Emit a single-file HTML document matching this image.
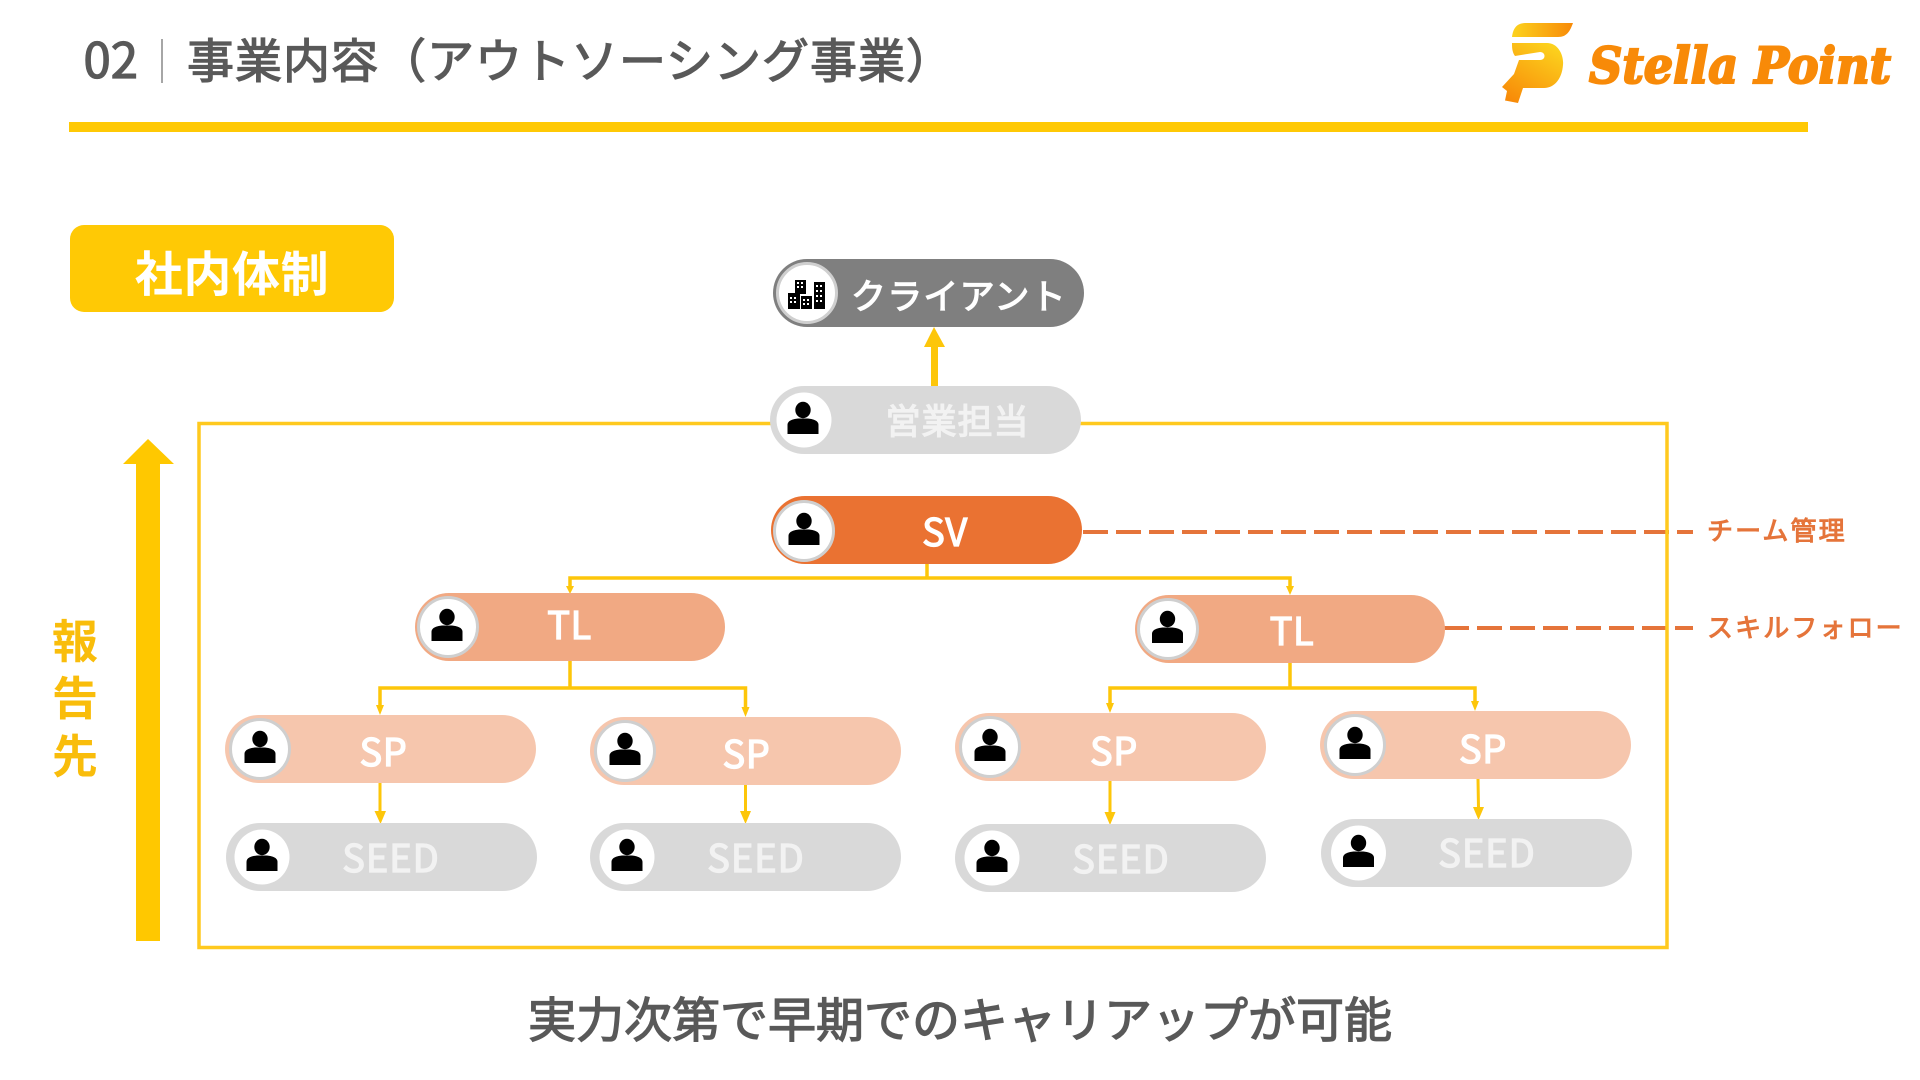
<!DOCTYPE html>
<html lang="ja">
<head>
<meta charset="utf-8">
<title>事業内容（アウトソーシング事業）</title>
<style>
html,body{margin:0;padding:0;background:#fff;width:1920px;height:1080px;overflow:hidden}
svg{display:block}
text{font-family:"Noto Sans CJK JP","Liberation Sans",sans-serif}
.w{fill:#fff;stroke:#fff;stroke-width:1.3px;text-anchor:middle;font-size:38px;letter-spacing:.6px}
.g{fill:#f2f2f2;stroke:#f2f2f2;stroke-width:1.3px;text-anchor:middle;font-size:38px;letter-spacing:1px}
.o{fill:#e5743a;stroke:#e5743a;stroke-width:1px;font-size:26px;letter-spacing:2.1px}
.t{fill:#595959;stroke:#595959;stroke-width:1.300px}
</style>
</head>
<body>
<svg width="1920" height="1080" viewBox="0 0 1920 1080" xmlns="http://www.w3.org/2000/svg">
<defs>
<linearGradient id="lg1" x1="0" y1="0" x2="1" y2="0"><stop offset="0" stop-color="#fcd31e"/><stop offset="1" stop-color="#f88a08"/></linearGradient>
<linearGradient id="lg2" x1="0.8" y1="0" x2="0.2" y2="1"><stop offset="0" stop-color="#fcd31e"/><stop offset="1" stop-color="#f88a08"/></linearGradient>
<g id="person"><ellipse cx="0" cy="-10" rx="7.7" ry="8.2" fill="#000"/><path d="M-15.5 14V5C-15.5 0-9-1-5-1.500H5C9-1 15.500 0 15.500 5V14Z" fill="#000"/></g>
</defs>

<!-- header -->
<text x="83.500" y="78" font-size="49" class="t">02</text>
<rect x="161" y="39" width="2" height="44" fill="#a6a6a6"/>
<text x="187" y="78" font-size="47" class="t" letter-spacing="1">事業内容（アウトソーシング事業）</text>
<rect x="69" y="122" width="1739" height="10" fill="#ffc905"/>

<!-- logo -->
<path d="M1512 37C1513 28 1517 23 1526 23H1573C1570 31 1567 37 1558 37Z" fill="url(#lg1)"/>
<path d="M1512 43H1547C1558 43 1564 55 1563 65C1562 78 1555 88 1544 88H1523L1518 103L1505 100.500L1507 91L1502 87L1514 74L1519 60H1540C1546 60 1546 52 1540 52L1515 56C1512 52 1512 47 1512 43Z" fill="url(#lg2)"/>
<text x="1589" y="83" font-size="50" font-weight="700" font-style="italic" fill="#f88a08" stroke="#f88a08" stroke-width="2.200" style="font-family:'DejaVu Serif','Liberation Serif',serif" textLength="302" lengthAdjust="spacingAndGlyphs">Stella Point</text>

<!-- badge -->
<rect x="70" y="225" width="324" height="87" rx="14" fill="#ffc905"/>
<text x="232" y="291" font-size="48" font-weight="700" fill="#fff" text-anchor="middle" letter-spacing=".6">社内体制</text>

<!-- big arrow -->
<path d="M136 941V464H123L148 439L174 464H160V941Z" fill="#ffc800"/>
<g font-size="46" font-weight="700" fill="#f9bd0b" text-anchor="middle">
<text x="75" y="658">報</text><text x="75" y="715">告</text><text x="75" y="773">先</text>
</g>

<!-- dashed -->
<g stroke="#e5743a" stroke-width="4" fill="none" stroke-dasharray="25 8">
<path d="M1083 532H1693"/>
<path d="M1444 628H1693"/>
</g>

<!-- frame -->
<rect x="199" y="423.500" width="1468" height="524" fill="none" stroke="#ffc91e" stroke-width="3.500"/>

<!-- connectors -->
<g stroke="#fdc60a" fill="none" stroke-width="3.500">
<path d="M927 562V578M570 587V578H1290V588" />
<path d="M570 661V688M380 706V688H745.500V708"/>
<path d="M1290 663V688M1110 704V688H1475V702"/>
<path d="M380 783V812M745.500 785V812M1110 781V813M1478 779L1478.500 808" stroke-width="3"/>
</g>
<g fill="#fdc60a">
<path d="M566 586H574L570 594ZM1286 586H1294L1290 595ZM376 705H384L380 715ZM741.500 707H749.500L745.500 717ZM1106 703H1114L1110 713ZM1471 701H1479L1475 711Z"/>
<path d="M374.500 811H386L380.500 824ZM740 811H751L745.500 824ZM1104.500 812H1115.500L1110 825ZM1473 807H1484L1478.500 820Z"/>
<path d="M934 327L945 347H938V387H931V347H924Z"/>
</g>

<!-- client -->
<rect x="773" y="259" width="311" height="68" rx="34" fill="#7f7f7f"/>
<circle cx="807" cy="293" r="29.500" fill="#fff" stroke="#cfcfcf" stroke-width="3"/>
<g>
<rect x="795" y="280" width="11" height="14" fill="#000"/>
<rect x="788" y="293" width="12" height="16" fill="#000"/>
<rect x="801" y="296" width="11" height="13" fill="#000"/>
<rect x="814" y="282" width="11" height="27" fill="#000"/>
<g fill="#fff">
<rect x="797" y="282" width="2" height="2"/><rect x="801" y="282" width="2" height="2"/><rect x="797" y="286" width="2" height="2"/><rect x="801" y="286" width="2" height="2"/>
<rect x="790" y="297" width="2" height="2"/><rect x="794" y="297" width="2" height="2"/><rect x="790" y="301" width="2" height="2"/><rect x="794" y="301" width="2" height="2"/>
<rect x="803" y="299" width="2" height="2"/><rect x="807" y="299" width="2" height="2"/><rect x="803" y="303" width="2" height="2"/><rect x="807" y="303" width="2" height="2"/>
<rect x="816" y="285" width="2" height="2"/><rect x="820" y="285" width="2" height="2"/><rect x="816" y="290" width="2" height="2"/><rect x="820" y="290" width="2" height="2"/><rect x="816" y="295" width="2" height="2"/><rect x="820" y="295" width="2" height="2"/><rect x="816" y="300" width="2" height="2"/><rect x="820" y="300" width="2" height="2"/>
</g>
</g>
<text x="851" y="309" font-size="35" fill="#fff" stroke="#fff" stroke-width="1.300" letter-spacing="1.200">クライアント</text>

<!-- sales -->
<rect x="770" y="386" width="311" height="68" rx="34" fill="#d9d9d9"/>
<circle cx="804" cy="420" r="27.500" fill="#fff"/>
<use href="#person" x="803" y="420"/>
<text x="957.500" y="434" class="g" style="font-size:35px">営業担当</text>

<!-- SV -->
<rect x="771" y="496" width="311" height="68" rx="34" fill="#ea7232"/>
<circle cx="804" cy="531" r="29.500" fill="#fff" stroke="#cfcfcf" stroke-width="3"/>
<use href="#person" x="804" y="531"/>
<text x="945" y="546" class="w">SV</text>

<!-- TL left -->
<rect x="415" y="593" width="310" height="68" rx="34" fill="#f1a983"/>
<circle cx="448" cy="627" r="29.500" fill="#fff" stroke="#cfcfcf" stroke-width="3"/>
<use href="#person" x="447" y="627"/>
<text x="569.500" y="639" class="w">TL</text>

<!-- TL right -->
<rect x="1135" y="595" width="310" height="68" rx="34" fill="#f1a983"/>
<circle cx="1168" cy="629" r="29.500" fill="#fff" stroke="#cfcfcf" stroke-width="3"/>
<use href="#person" x="1167.500" y="629"/>
<text x="1292" y="645" class="w">TL</text>

<!-- SP -->
<g fill="#f6c6ad">
<rect x="225" y="715" width="311" height="68" rx="34"/>
<rect x="590" y="717" width="311" height="68" rx="34"/>
<rect x="955" y="713" width="311" height="68" rx="34"/>
<rect x="1320" y="711" width="311" height="68" rx="34"/>
</g>
<g fill="#fff" stroke="#cfcfcf" stroke-width="3">
<circle cx="260" cy="749" r="29.500"/>
<circle cx="625" cy="751" r="29.500"/>
<circle cx="990" cy="747" r="29.500"/>
<circle cx="1355" cy="745" r="29.500"/>
</g>
<use href="#person" x="260" y="749"/>
<use href="#person" x="625" y="751"/>
<use href="#person" x="990" y="747"/>
<use href="#person" x="1355" y="745"/>
<text x="383.500" y="766" class="w">SP</text>
<text x="746.500" y="768" class="w">SP</text>
<text x="1114" y="765" class="w">SP</text>
<text x="1483" y="763" class="w">SP</text>

<!-- SEED -->
<g fill="#d9d9d9">
<rect x="226" y="823" width="311" height="68" rx="34"/>
<rect x="590" y="823" width="311" height="68" rx="34"/>
<rect x="955" y="824" width="311" height="68" rx="34"/>
<rect x="1321" y="819" width="311" height="68" rx="34"/>
</g>
<g fill="#fff">
<circle cx="262" cy="857" r="27.500"/>
<circle cx="627" cy="857" r="27.500"/>
<circle cx="992" cy="858" r="27.500"/>
<circle cx="1358.500" cy="853" r="27.500"/>
</g>
<use href="#person" x="262" y="857"/>
<use href="#person" x="627" y="857"/>
<use href="#person" x="992" y="858"/>
<use href="#person" x="1358.500" y="853"/>
<text x="391" y="872" class="g">SEED</text>
<text x="756" y="872" class="g">SEED</text>
<text x="1121" y="873" class="g">SEED</text>
<text x="1487" y="867" class="g">SEED</text>

<!-- side labels -->
<text x="1707" y="540" class="o">チーム管理</text>
<text x="1707" y="637" class="o">スキルフォロー</text>

<!-- footer -->
<text x="960" y="1037" font-size="48" class="t" text-anchor="middle">実力次第で早期でのキャリアップが可能</text>
</svg>
</body>
</html>
